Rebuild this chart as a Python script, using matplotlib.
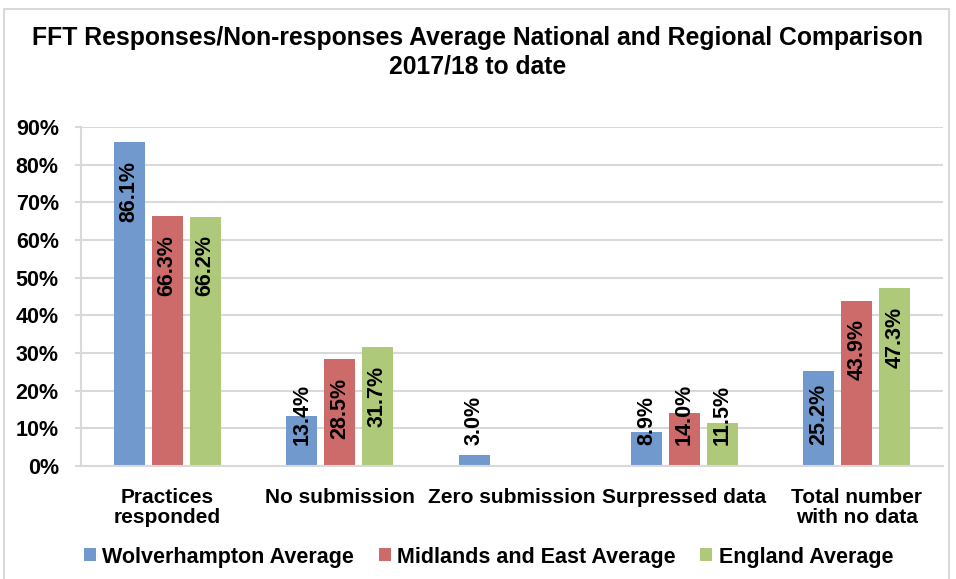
import numpy as np
import matplotlib
matplotlib.use('Agg')
import matplotlib.pyplot as plt
import matplotlib.patches as patches
from matplotlib import font_manager

# ----------
# Data
categories = ['Practices\nresponded', 'No submission', 'Zero submission',
              'Surpressed data', 'Total number\nwith no data']
series_names = ['Wolverhampton Average', 'Midlands and East Average', 'England Average']
wolverhampton = [86.1, 13.4, 3.0, 8.9, 25.2]
midlands_east = [66.3, 28.5, np.nan, 14.0, 43.9]
england = [66.2, 31.7, np.nan, 11.5, 47.3]
yticks = [0, 10, 20, 30, 40, 50, 60, 70, 80, 90]
title = 'FFT Responses/Non-responses Average National and Regional Comparison\n2017/18 to date'
# ----------

colors = ['#7199cd', '#cd6b6a', '#aec97a']
grid_color = '#d9d9d9'

names = {f.name for f in font_manager.fontManager.ttflist}
title_font = 'Liberation Sans Narrow' if 'Liberation Sans Narrow' in names else 'Liberation Sans'
plt.rcParams['font.family'] = ['Liberation Sans', 'DejaVu Sans']

fig = plt.figure(figsize=(9.56, 5.79), dpi=100, facecolor='white')
# light frame round the chart
fig.patches.append(patches.Rectangle((4 / 956, -0.01), 945 / 956, 1 - 9 / 579 + 0.01,
                                     transform=fig.transFigure, fill=False,
                                     edgecolor=grid_color, lw=1.5))

ax = fig.add_axes([81 / 956, 1 - 466 / 579, (943 - 81) / 956, (466 - 127) / 579])

x = np.arange(len(categories))
width = 0.18
offsets = [-0.22, 0.0, 0.22]
all_series = [wolverhampton, midlands_east, england]

for vals, off, col, name in zip(all_series, offsets, colors, series_names):
    ax.bar(x + off, vals, width, color=col, label=name, zorder=2)

ax.set_xlim(-0.5, len(categories) - 0.5)
ax.set_ylim(0, 90)
ax.set_yticks(yticks)
ax.set_yticklabels(['%d%%' % t for t in yticks], fontsize=15.5, fontweight='bold')
ax.set_xticks(x)
ax.set_xticklabels(categories, fontsize=15, fontweight='bold', linespacing=1.05)
ax.tick_params(axis='x', length=0, pad=16)
ax.tick_params(axis='y', length=4, color=grid_color, width=1.5, pad=12)

ax.yaxis.grid(True, color=grid_color, lw=1.5, zorder=0)
ax.set_axisbelow(True)
for s in ['top', 'right']:
    ax.spines[s].set_visible(False)
for s in ['left', 'bottom']:
    ax.spines[s].set_color(grid_color)
    ax.spines[s].set_linewidth(1.5)

# data labels, rotated, inside the top of each bar
fig.canvas.draw()
renderer = fig.canvas.get_renderer()
inv = ax.transData.inverted()
for vals, off in zip(all_series, offsets):
    for xi, v in zip(x, vals):
        if np.isnan(v):
            continue
        t = ax.text(xi + off, v - 5.0, '%.1f%%' % v, rotation=90, ha='center', va='top',
                    fontsize=15.5, fontweight='bold', color='black', zorder=3)
        bb = t.get_window_extent(renderer)
        y0 = inv.transform((0, bb.y0))[1]
        if y0 < 5.6:
            t.set_y(5.6)
            t.set_va('bottom')

fig.text(0.5, 1 - 52 / 579, title, ha='center', va='center', fontsize=17.8,
         fontweight='bold', family=[title_font, 'DejaVu Sans'], linespacing=1.25)

handles, labels = ax.get_legend_handles_labels()
fig.legend(handles, labels, loc='center', bbox_to_anchor=(0.511, 1 - 557 / 579), ncol=3,
           frameon=False, prop={'size': 15.5, 'weight': 'bold'},
           handlelength=0.55, handleheight=0.55, handletextpad=0.3, columnspacing=1.15)

fig.savefig('out.png', dpi=100, facecolor='white')
